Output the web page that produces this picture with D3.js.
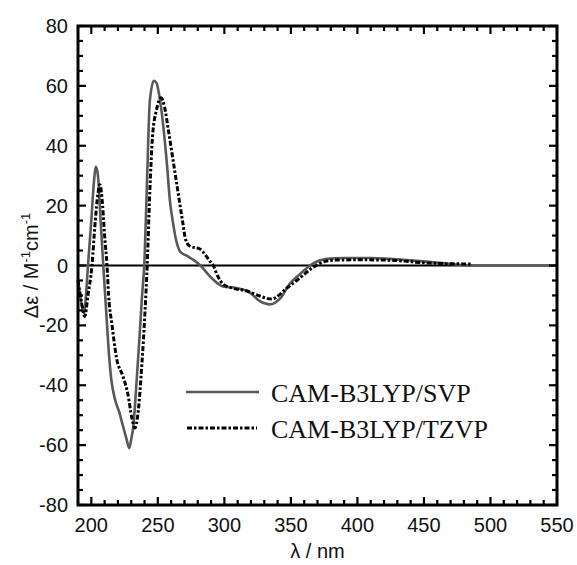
<!DOCTYPE html>
<html>
<head>
<meta charset="utf-8">
<script src="https://cdn.jsdelivr.net/npm/d3@7"></script>
<style>
  body { margin: 0; background: #fff; }
  svg { display: block; }
</style>
</head>
<body>
<div id="chart"></div>
<script>
// --- Data ---
const lambdaSVP = [190, 192, 194.5, 196, 197.5, 200, 202, 203.5, 205, 207, 209, 211, 213, 215, 218, 221, 224, 226.5, 228.5,
  230, 231.5, 234, 236.5, 238, 240, 242, 244, 247, 249, 251, 254, 257, 259, 261.5, 264, 267, 272, 277, 282, 290, 299, 309,
  319, 327, 334, 342, 349, 357, 366, 377, 390, 410, 424, 440, 454, 470, 486, 550];
const deltaSVP = [-5, -11, -16, -10, 0, 15, 28, 33, 30, 15, 0, -14, -28, -38, -45, -49, -54, -58, -61,
  -58, -54, -39, -22, -11, 2, 30, 55, 61.7, 61, 57, 47, 33, 22, 14, 8, 4.5, 3.2, 1.8, 0, -4, -7, -7.5,
  -9, -12, -13, -11, -6.2, -2.8, 0.5, 2.2, 2.5, 2.5, 2.2, 1.7, 1.2, 0.5, 0, 0];

const lambdaTZVP = [190, 192.5, 195, 197.5, 200.5, 203, 205, 206.5, 208.5, 210, 211.8, 213, 215.5, 219, 223.8, 227.5, 230.5,
  232.8, 235, 238, 240.3, 242, 244, 246, 249, 252.5, 255, 258, 261.5, 265, 268.5, 271, 274, 281.6, 289, 291.6, 295, 299,
  305.6, 317, 326.6, 335.6, 347, 356.7, 366, 377, 384, 400, 422, 454, 486];
const deltaTZVP = [-5, -12, -17, -10, 0, 15, 24, 27, 20, 10, 0, -10, -19.6, -31, -37, -43, -51,
  -54.3, -49.7, -33, -16, 0, 25, 43, 52, 56, 53, 45, 35, 25, 15, 8.5, 6.5, 5.5, 1.5, 0, -3.5, -6.2,
  -7.5, -8.5, -10.2, -11.2, -7.5, -4.2, -0.8, 1.5, 1.8, 1.9, 1.8, 0.8, 0.5];

const seriesNames = ["CAM-B3LYP/SVP", "CAM-B3LYP/TZVP"];
const xTicks = [200, 250, 300, 350, 400, 450, 500, 550];
const yTicks = [-80, -60, -40, -20, 0, 20, 40, 60, 80];

const width = 577, height = 565;
const margin = { left: 78, right: 20, top: 26, bottom: 60 };

const svg = d3.select("#chart").append("svg")
  .attr("width", width)
  .attr("height", height);

const x = d3.scaleLinear().domain([190, 550]).range([margin.left, width - margin.right]);
const y = d3.scaleLinear().domain([-80, 80]).range([height - margin.bottom, margin.top]);

const toPoints = (xs, ys) => xs.map((v, i) => [v, ys[i]]);

// zero line
svg.append("line")
  .attr("x1", x(190)).attr("x2", x(550))
  .attr("y1", y(0)).attr("y2", y(0))
  .attr("stroke", "#000").attr("stroke-width", 2);

const line = d3.line()
  .x(d => x(d[0]))
  .y(d => y(d[1]))
  .curve(d3.curveMonotoneX);

svg.append("path")
  .datum(toPoints(lambdaSVP, deltaSVP))
  .attr("d", line)
  .attr("fill", "none")
  .attr("stroke", "#595959")
  .attr("stroke-width", 2.6);

svg.append("path")
  .datum(toPoints(lambdaTZVP, deltaTZVP))
  .attr("d", line)
  .attr("fill", "none")
  .attr("stroke", "#000")
  .attr("stroke-width", 3)
  .attr("stroke-dasharray", "5,2,2.5,2");

// --- axes: ticks inward on all four sides ---
const tickW = 2.2;
const xMinor = d3.range(190, 551, 10);
const yMinor = d3.range(-80, 81, 5);
const gT = svg.append("g").attr("stroke", "#000").attr("stroke-width", tickW);

xMinor.forEach(v => {
  const len = v % 50 === 0 ? 8 : 5;
  gT.append("line").attr("x1", x(v)).attr("x2", x(v)).attr("y1", y(-80)).attr("y2", y(-80) - len);
  gT.append("line").attr("x1", x(v)).attr("x2", x(v)).attr("y1", y(80)).attr("y2", y(80) + len);
});
yMinor.forEach(v => {
  const len = v % 20 === 0 ? 8 : 5;
  gT.append("line").attr("x1", x(190)).attr("x2", x(190) + len).attr("y1", y(v)).attr("y2", y(v));
  gT.append("line").attr("x1", x(550)).attr("x2", x(550) - len).attr("y1", y(v)).attr("y2", y(v));
});

svg.append("rect")
  .attr("x", x(190)).attr("y", y(80))
  .attr("width", x(550) - x(190)).attr("height", y(-80) - y(80))
  .attr("fill", "none").attr("stroke", "#000").attr("stroke-width", 3);

// tick labels
svg.append("g").selectAll("text")
  .data(xTicks).enter().append("text")
  .attr("x", d => x(d))
  .attr("y", 532)
  .attr("text-anchor", "middle")
  .attr("font-family", "Liberation Sans, Arial, sans-serif")
  .attr("font-size", "20px")
  .attr("fill", "#111")
  .text(d => d);

svg.append("g").selectAll("text")
  .data(yTicks).enter().append("text")
  .attr("x", 68)
  .attr("y", d => y(d))
  .attr("dy", "0.35em")
  .attr("text-anchor", "end")
  .attr("font-family", "Liberation Sans, Arial, sans-serif")
  .attr("font-size", "20px")
  .attr("fill", "#111")
  .text(d => d);

// axis titles
svg.append("text")
  .attr("x", (x(190) + x(550)) / 2)
  .attr("y", 558)
  .attr("text-anchor", "middle")
  .attr("font-family", "Liberation Sans, Arial, sans-serif")
  .attr("font-size", "20px")
  .attr("fill", "#111")
  .text("λ / nm");

const yt = svg.append("text")
  .attr("transform", `translate(38,${(y(80) + y(-80)) / 2}) rotate(-90)`)
  .attr("text-anchor", "middle")
  .attr("font-family", "Liberation Sans, Arial, sans-serif")
  .attr("font-size", "20px")
  .attr("fill", "#111");
yt.append("tspan").text("Δε / M");
yt.append("tspan").attr("dy", -8).attr("font-size", "13px").text("-1");
yt.append("tspan").attr("dy", 8).text("cm");
yt.append("tspan").attr("dy", -8).attr("font-size", "13px").text("-1");

// legend
const legend = svg.append("g");
const legY = [392, 428];
legend.append("line")
  .attr("x1", 186).attr("x2", 259).attr("y1", legY[0]).attr("y2", legY[0])
  .attr("stroke", "#595959").attr("stroke-width", 2.6);
legend.append("line")
  .attr("x1", 187).attr("x2", 257).attr("y1", legY[1]).attr("y2", legY[1])
  .attr("stroke", "#000").attr("stroke-width", 3).attr("stroke-dasharray", "5,2,2.5,2");
legend.selectAll("text")
  .data(seriesNames).enter().append("text")
  .attr("x", 271)
  .attr("y", (d, i) => legY[i] + 10)
  .attr("font-family", "Liberation Serif, Times New Roman, serif")
  .attr("font-size", "26px")
  .attr("fill", "#111")
  .text(d => d);
</script>
</body>
</html>
